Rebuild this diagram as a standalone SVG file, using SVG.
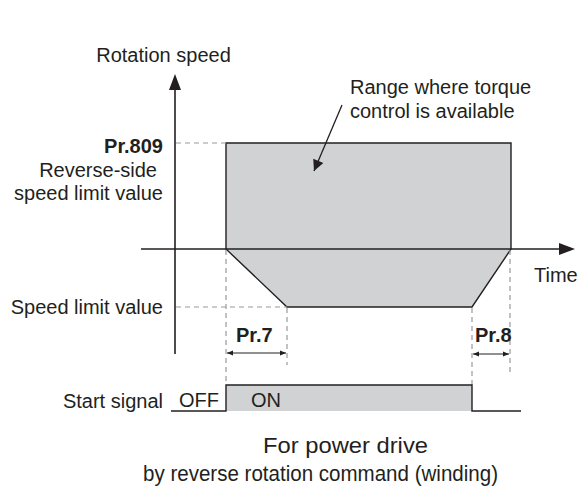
<svg xmlns="http://www.w3.org/2000/svg" width="579" height="487" viewBox="0 0 579 487">
<style>
text{font-family:"Liberation Sans",Arial,Helvetica,sans-serif;font-size:20px;fill:#231f20}
.b{font-weight:bold}
.big{font-size:22px}
.ax{stroke:#231f20;stroke-width:1.6;fill:none}
.ol{stroke:#231f20;stroke-width:1.4;fill:none}
.dash{stroke:#9a9a9a;stroke-width:1.2;stroke-dasharray:5,4;fill:none}
.fill{fill:#d1d2d4}
.dim{stroke:#231f20;stroke-width:1;fill:none;marker-start:url(#sa);marker-end:url(#ea)}
</style>
<defs>
<marker id="ea" viewBox="0 0 10 10" refX="10" refY="5" markerWidth="6" markerHeight="6" markerUnits="userSpaceOnUse" orient="auto"><path d="M0,1 L10,5 L0,9 z" fill="#231f20"/></marker>
<marker id="sa" viewBox="0 0 10 10" refX="0" refY="5" markerWidth="6" markerHeight="6" markerUnits="userSpaceOnUse" orient="auto"><path d="M10,1 L0,5 L10,9 z" fill="#231f20"/></marker>
<marker id="pa" viewBox="0 0 10 10" refX="10" refY="5" markerWidth="13" markerHeight="11" markerUnits="userSpaceOnUse" orient="auto"><path d="M0,0 L10,5 L0,10 z" fill="#231f20"/></marker>
</defs>

<g id="region">
<polygon class="fill" points="226,143 511,143 511,249 472,307 287,307 226,249"/>
<polygon class="ol" points="226,143 511,143 511,249 472,307 287,307 226,249"/>
</g>

<g id="guides">
<line class="dash" x1="176" y1="143" x2="226" y2="143"/>
<line class="dash" x1="176" y1="307" x2="287" y2="307"/>
<line class="dash" x1="226" y1="250" x2="226" y2="385"/>
<line class="dash" x1="287" y1="308" x2="287" y2="365"/>
<line class="dash" x1="472" y1="308" x2="472" y2="385"/>
<line class="dash" x1="510" y1="250" x2="510" y2="373"/>
</g>

<g id="axes">
<line class="ax" x1="175" y1="88" x2="175" y2="354"/>
<polygon points="175,74 169,90 181,90" fill="#231f20"/>
<line class="ax" x1="141" y1="249" x2="561" y2="249"/>
<polygon points="575,249 559,243 559,255" fill="#231f20"/>
</g>

<g id="connectors">
<line x1="342" y1="105" x2="314" y2="171" stroke="#231f20" stroke-width="1.3" marker-end="url(#pa)"/>
<line class="dim" x1="227" y1="353" x2="286" y2="353"/>
<line class="dim" x1="473" y1="354" x2="509" y2="354"/>
</g>

<g id="signal">
<rect class="fill" x="226" y="385" width="246" height="26"/>
<path class="ol" d="M171,411 H226 V385 H472 V411 H521"/>
</g>

<g id="labels">
<text x="163.5" y="62" text-anchor="middle">Rotation speed</text>
<text class="b" x="163" y="153" text-anchor="end">Pr.809</text>
<text x="157" y="177" text-anchor="end">Reverse-side</text>
<text x="163" y="200" text-anchor="end">speed limit value</text>
<text x="350" y="94">Range where torque</text>
<text x="350" y="118">control is available</text>
<text x="534" y="282">Time</text>
<text x="163" y="314" text-anchor="end">Speed limit value</text>
<text class="b" x="236" y="342">Pr.7</text>
<text class="b" x="475" y="342">Pr.8</text>
<text x="163" y="408" text-anchor="end">Start signal</text>
<text x="179" y="407">OFF</text>
<text x="251" y="407">ON</text>
<text class="big" x="263" y="453" textLength="165" lengthAdjust="spacingAndGlyphs">For power drive</text>
<text class="big" x="143" y="481" textLength="355" lengthAdjust="spacingAndGlyphs">by reverse rotation command (winding)</text>
</g>
</svg>
